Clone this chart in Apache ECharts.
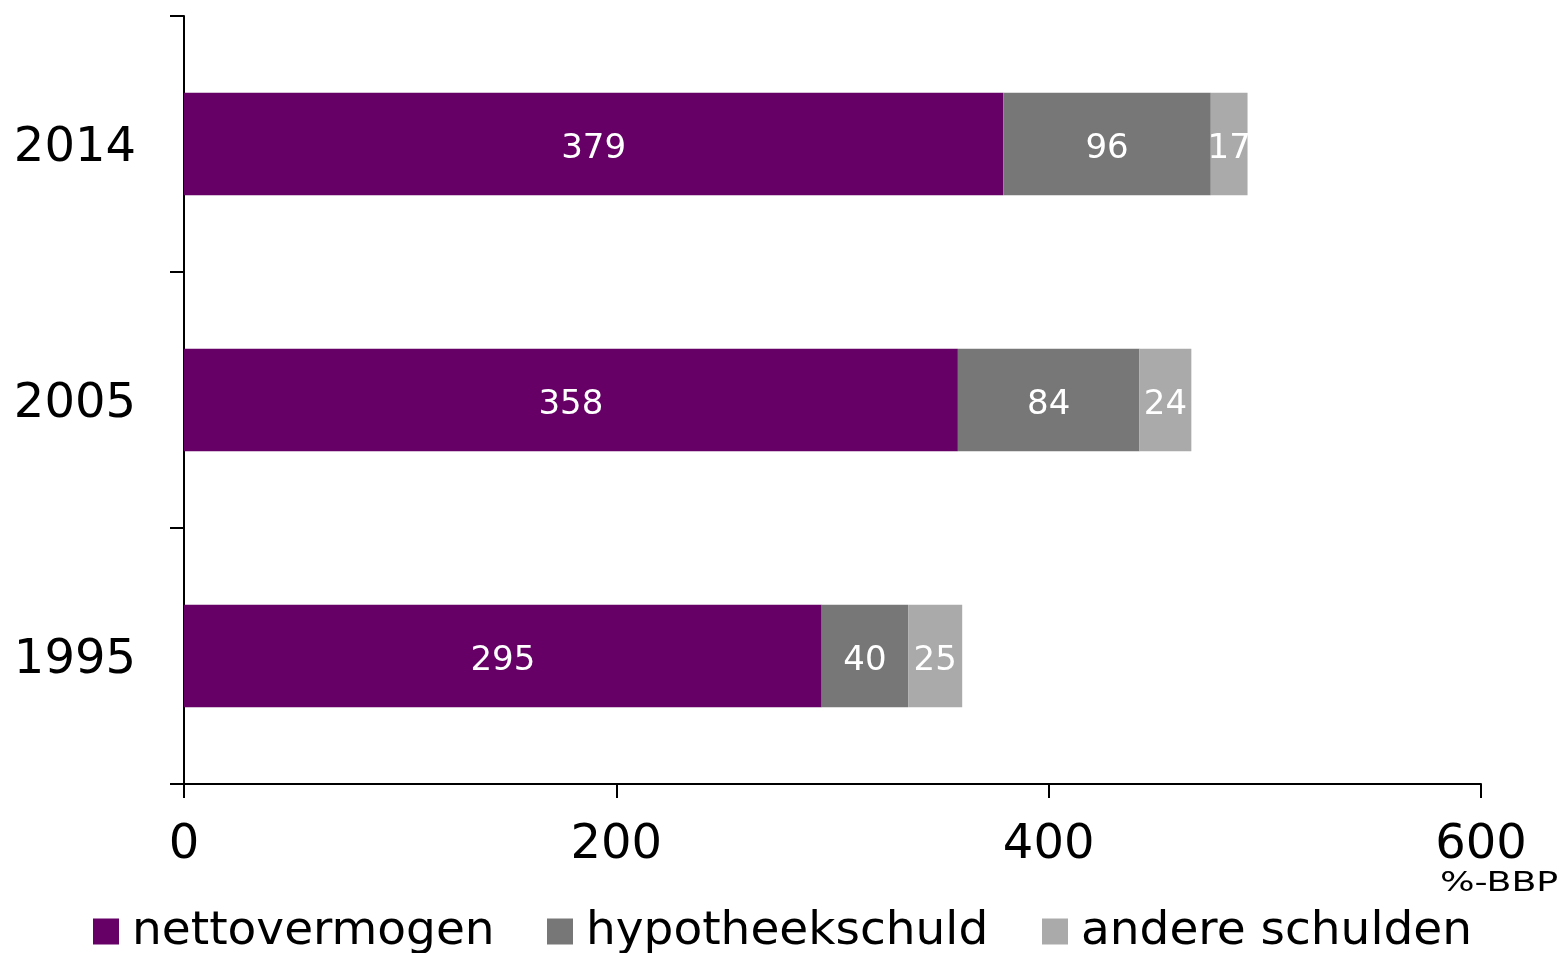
<!DOCTYPE html>
<html>
<head>
<meta charset="utf-8">
<script src="https://cdn.jsdelivr.net/npm/echarts@6/dist/echarts.min.js"></script>
<style>html,body{margin:0;padding:0;background:#fff}#c{width:1564px;height:953px}</style>
</head>
<body>
<div id="c"></div>
<script>
const categories = ['1995', '2005', '2014'];
const seriesNames = ['nettovermogen', 'hypotheekschuld', 'andere schulden'];
const nettovermogen = [295, 358, 379];
const hypotheekschuld = [40, 84, 96];
const andereSchulden = [25, 24, 17];
const xTicks = [0, 200, 400, 600];
const unitLabel = '%-BBP';

const colors = ['#660066', '#777777', '#aaaaaa'];
const values = [nettovermogen, hypotheekschuld, andereSchulden];
const font = 'DejaVu Sans';

const chart = echarts.init(document.getElementById('c'));
const legendLeft = [88, 542, 1037];
chart.setOption({
  animation: false,
  color: colors,
  grid: { left: 184, right: 83, top: 16, bottom: 169, containLabel: false },
  xAxis: {
    type: 'value', min: xTicks[0], max: xTicks[xTicks.length - 1], interval: 200,
    axisLine: { show: true, lineStyle: { color: '#000', width: 2 } },
    axisTick: { show: true, length: 14, lineStyle: { color: '#000', width: 2 } },
    splitLine: { show: false },
    axisLabel: { color: '#000', fontSize: 48, fontFamily: font, margin: 38 }
  },
  yAxis: {
    type: 'category', data: categories,
    axisLine: { show: true, lineStyle: { color: '#000', width: 2 } },
    axisTick: { show: true, length: 14, lineStyle: { color: '#000', width: 2 } },
    axisLabel: {
      color: '#000', fontSize: 48, fontFamily: font, margin: 48,
      formatter: '{v|{value}}',
      rich: { v: { color: '#000', fontSize: 48, fontFamily: font, padding: [10, 0, 0, 0] } }
    }
  },
  legend: seriesNames.map((n, i) => ({
    data: [n], left: legendLeft[i], top: 903, itemWidth: 26, itemHeight: 26, itemGap: 0,
    icon: 'rect',
    textStyle: { color: '#000', fontSize: 47, fontFamily: font, padding: [0, 0, 0, 8] }
  })),
  series: seriesNames.map((n, i) => ({
    name: n, type: 'bar', stack: 'total', barWidth: '40%', data: values[i],
    itemStyle: { color: colors[i] },
    label: { show: true, position: 'inside', color: '#fff', fontSize: 34, fontFamily: font, offset: [0, 5] }
  })),
  graphic: [{
    type: 'text', left: 1440, top: 871, scaleX: 1.4,
    style: { text: unitLabel, fontSize: 26, fontFamily: font, fill: '#000' }
  }]
});
</script>
</body>
</html>
